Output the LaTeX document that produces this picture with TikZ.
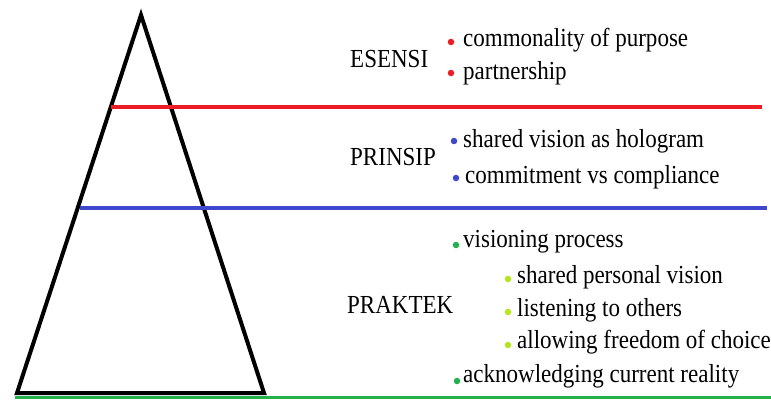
\documentclass[tikz,border=0pt]{standalone}
\usepackage{fontspec}
\setmainfont{Liberation Serif}
\usepackage{graphicx}
\definecolor{esred}{RGB}{237,28,36}
\definecolor{prblue}{RGB}{63,72,204}
\definecolor{prgreen}{RGB}{34,177,76}
\definecolor{sublime}{RGB}{181,230,29}
\newcommand{\nar}[1]{\scalebox{0.885}[1]{#1}}
\begin{document}
\begin{tikzpicture}[x=1pt,y=-1pt,
  lbl/.style={anchor=base west,inner sep=0pt,font=\fontsize{26}{30}\selectfont},
  dotmark/.style={circle,inner sep=0pt,minimum size=6.5pt,fill=#1},
  band/.style={line width=4pt,draw=#1}]
\useasboundingbox (0,0) rectangle (771,399);

% pyramid
\coordinate (apex) at (141,15);
\coordinate (bl) at (17,393);
\coordinate (br) at (264,393);
\draw[line width=4pt,line join=miter] (apex) -- (br) -- (bl) -- cycle;

% layer boundaries
\coordinate (r1) at (111,107); \coordinate (r2) at (762,107);
\coordinate (b1) at (80,208);  \coordinate (b2) at (767,208);
\coordinate (g1) at (15,397);  \coordinate (g2) at (771,397);
\draw[band=esred] (r1) -- (r2);
\draw[band=prblue] (b1) -- (b2);
\draw[line width=3pt,draw=prgreen] (g1) -- (g2);

% essence
\node[lbl] (esensi) at (350,67) {\nar{ESENSI}};
\node[dotmark=esred] (d1) at (451,42) {};
\node[lbl] (t1) at (463,46) {\nar{commonality of purpose}};
\node[dotmark=esred] (d2) at (451,73) {};
\node[lbl] (t2) at (463,79) {\nar{partnership}};

% principles
\node[lbl] (prinsip) at (350,165) {\nar{PRINSIP}};
\node[dotmark=prblue] (d3) at (454,141) {};
\node[lbl] (t3) at (463,147) {\nar{shared vision as hologram}};
\node[dotmark=prblue] (d4) at (456,178) {};
\node[lbl] (t4) at (465,183) {\nar{commitment vs compliance}};

% practices
\node[lbl] (praktek) at (347,313) {\nar{PRAKTEK}};
\node[dotmark=prgreen] (d5) at (456,245) {};
\node[lbl] (t5) at (463,247) {\nar{visioning process}};
\node[dotmark=sublime] (d6) at (508,279) {};
\node[lbl] (t6) at (517,283) {\nar{shared personal vision}};
\node[dotmark=sublime] (d7) at (508,312) {};
\node[lbl] (t7) at (517,316) {\nar{listening to others}};
\node[dotmark=sublime] (d8) at (508,345) {};
\node[lbl] (t8) at (517,348) {\nar{allowing freedom of choice}};
\node[dotmark=prgreen] (d9) at (457,381) {};
\node[lbl] (t9) at (463,382) {\nar{acknowledging current reality}};
\end{tikzpicture}
\end{document}
